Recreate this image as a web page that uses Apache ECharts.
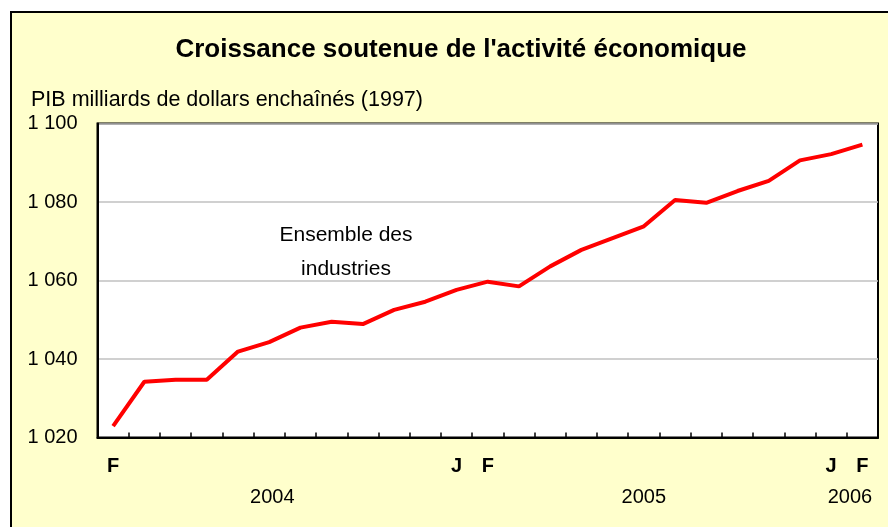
<!DOCTYPE html>
<html>
<head>
<meta charset="utf-8">
<script src="https://cdn.jsdelivr.net/npm/echarts@6/dist/echarts.min.js"></script>
<style>
html,body{margin:0;padding:0;background:#fff;}
#frame{position:absolute;left:10px;top:11px;width:900px;height:600px;background:#FFFFCC;border-left:2px solid #000;border-top:2px solid #000;}
#chart{position:absolute;left:0;top:0;width:888px;height:527px;}
</style>
</head>
<body>
<div id="frame"></div>
<div id="chart"></div>
<script>
// Monthly categories, Feb 2004 – Feb 2006
const categories = ['2004-02','2004-03','2004-04','2004-05','2004-06','2004-07','2004-08','2004-09','2004-10','2004-11','2004-12','2005-01',
  '2005-02','2005-03','2005-04','2005-05','2005-06','2005-07','2005-08','2005-09','2005-10','2005-11','2005-12','2006-01','2006-02'];
const monthLabels = ['F','','','','','','','','','','','J','F','','','','','','','','','','','J','F'];
// PIB, milliards de dollars enchaînés (1997)
const gdp = [1022.9,1034.2,1034.7,1034.7,1041.9,1044.3,1048.0,1049.5,1048.9,1052.5,1054.6,1057.6,
  1059.7,1058.5,1063.6,1067.8,1070.8,1073.8,1080.5,1079.8,1082.8,1085.4,1090.6,1092.2,1094.6];
const yearLabels = ['2004','2005','2006'];
const yearPositions = [5.1, 17.0, 23.6];
const yTicks = [1020, 1040, 1060, 1080, 1100];

const FONT = '"Liberation Sans", Arial, sans-serif';
const chart = echarts.init(document.getElementById('chart'), null, {renderer:'canvas'});
chart.setOption({
  backgroundColor: 'transparent',
  animation: false,
  title: [
    {text: "Croissance soutenue de l'activité économique", left: 456, top: 32, textAlign: 'center',
     textStyle: {fontFamily: FONT, fontSize: 26, fontWeight: 'bold', color: '#000'}},
    {text: 'PIB milliards de dollars enchaînés (1997)', left: 26, top: 84,
     textStyle: {fontFamily: FONT, fontSize: 21.5, fontWeight: 'normal', color: '#000'}}
  ],
  grid: {left: 97.5, right: 10, top: 123.5, bottom: 89.5, show: true, backgroundColor: '#fff',
         borderColor: '#000', borderWidth: 2},
  xAxis: [
    {type: 'category', data: categories, boundaryGap: true,
     axisLine: {lineStyle: {color: '#000', width: 2}},
     axisTick: {show: true, inside: true, length: 5, lineStyle: {color: '#000', width: 1.5}},
     axisLabel: {interval: 0, margin: 19, fontFamily: FONT, fontSize: 20, fontWeight: 'bold', color: '#000',
       formatter: (v, i) => monthLabels[i]}},
    {type: 'value', position: 'bottom', min: -0.5, max: 24.5,
     axisLine: {show: false}, axisTick: {show: false}, splitLine: {show: false},
     axisLabel: {customValues: yearPositions, margin: 50, fontFamily: FONT, fontSize: 20, color: '#000',
       formatter: (v) => { const k = yearPositions.indexOf(v); return k >= 0 ? yearLabels[k] : ''; }}}
  ],
  yAxis: {type: 'value', min: yTicks[0], max: yTicks[yTicks.length-1], interval: 20,
    axisLine: {show: true, onZero: false, lineStyle: {color: '#000', width: 2}},
    axisTick: {show: false},
    splitLine: {show: true, lineStyle: {color: '#C0C0C0', width: 1.5}},
    axisLabel: {margin: 20, fontFamily: FONT, fontSize: 20, color: '#000',
      formatter: (v) => { const s = String(Math.round(v)); return s.slice(0, s.length-3) + ' ' + s.slice(-3); }}},
  graphic: [
    {type: 'text', x: 346, y: 218, style: {text: 'Ensemble des\nindustries', textAlign: 'center',
      font: '21px ' + FONT, fill: '#000', lineHeight: 34}}
  ],
  series: [{
    type: 'line', data: gdp, xAxisIndex: 0, showSymbol: false, symbol: 'none',
    lineStyle: {color: '#FF0000', width: 4}, z: 5
  }]
});
</script>
</body>
</html>
